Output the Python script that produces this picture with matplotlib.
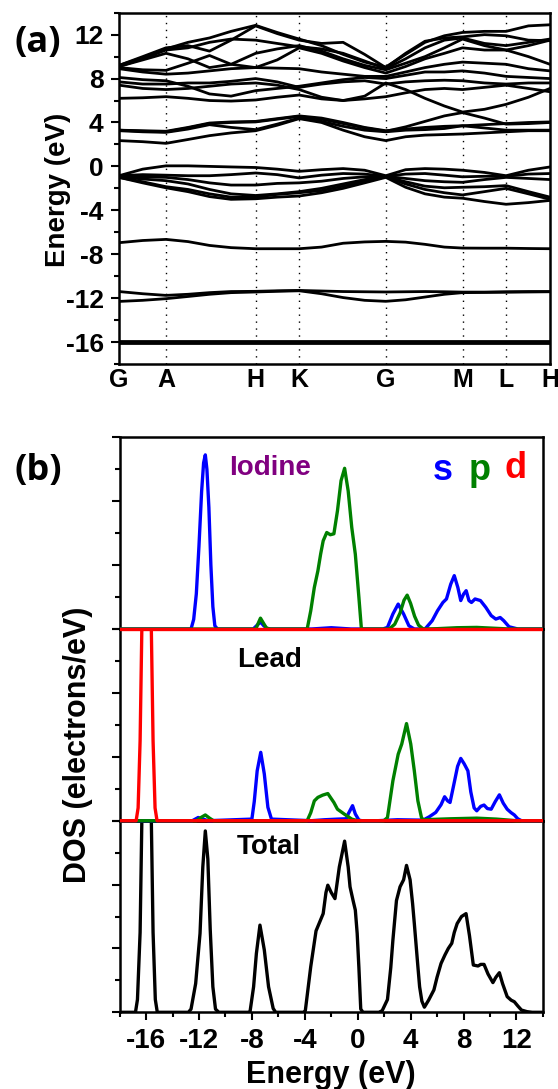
import matplotlib
matplotlib.use('Agg')
import matplotlib.pyplot as plt
from matplotlib.ticker import MultipleLocator
from matplotlib.patches import Rectangle

plt.rcParams['font.family'] = 'Liberation Sans'
plt.rcParams['font.weight'] = 'bold'
plt.rcParams['axes.unicode_minus'] = False

# --- band structure (a) ---
kpts = [0, 0.055, 0.109, 0.16, 0.21, 0.26, 0.317, 0.367, 0.418, 0.47, 0.52,
        0.57, 0.619, 0.665, 0.71, 0.755, 0.797, 0.848, 0.898, 0.95, 1.0]
knodes = [0, 0.109, 0.317, 0.418, 0.619, 0.797, 0.898, 1.0]
klabels = ['G', 'A', 'H', 'K', 'G', 'M', 'L', 'H']

b_m16a = [-16.05, -16.05, -16.05, -16.05, -16.05, -16.05, -16.05, -16.05, -16.05, -16.05, -16.05,
          -16.05, -16.05, -16.05, -16.05, -16.05, -16.05, -16.05, -16.05, -16.05, -16.05]
b_m16b = [-15.95, -15.95, -15.95, -15.95, -15.95, -15.95, -15.95, -15.95, -15.95, -15.95, -15.95,
          -15.95, -15.95, -15.95, -15.95, -15.95, -15.95, -15.95, -15.95, -15.95, -15.95]
b_m12a = [-11.4, -11.6, -11.75, -11.65, -11.5, -11.4, -11.38, -11.33, -11.3, -11.35, -11.4,
          -11.42, -11.44, -11.42, -11.4, -11.42, -11.45, -11.45, -11.42, -11.4, -11.4]
b_m12b = [-12.3, -12.2, -12.05, -11.85, -11.65, -11.5, -11.44, -11.38, -11.33, -11.6, -11.95,
          -12.2, -12.29, -12.15, -11.9, -11.65, -11.5, -11.48, -11.46, -11.44, -11.42]
b_m8 = [-6.95, -6.75, -6.65, -6.85, -7.2, -7.4, -7.5, -7.5, -7.5, -7.35, -7.0,
        -6.88, -6.83, -6.9, -7.1, -7.35, -7.44, -7.45, -7.45, -7.48, -7.5]

v1 = [-0.85, -0.25, 0.05, 0.05, 0.0, -0.05, -0.1, -0.25, -0.45, -0.3, -0.2,
      -0.35, -0.85, -0.3, -0.2, -0.25, -0.35, -0.55, -0.85, -0.35, -0.05]
v2 = [-0.85, -0.75, -0.8, -0.85, -0.85, -0.75, -0.6, -0.75, -1.05, -0.8, -0.65,
      -0.7, -0.9, -0.7, -0.65, -0.8, -0.95, -0.9, -0.9, -0.7, -0.65]
v3 = [-0.9, -0.95, -1.0, -1.2, -1.5, -1.7, -1.7, -1.55, -1.5, -1.35, -1.1,
      -0.95, -0.9, -1.1, -1.3, -1.4, -1.45, -1.2, -1.0, -1.1, -1.2]
v4 = [-0.95, -1.15, -1.3, -1.6, -2.1, -2.5, -2.65, -2.5, -2.3, -2.0, -1.6,
      -1.2, -0.95, -1.4, -1.8, -1.95, -1.9, -1.85, -1.75, -2.3, -2.8]
v5 = [-1.0, -1.4, -1.85, -2.1, -2.5, -2.8, -2.8, -2.55, -2.4, -2.2, -1.8,
      -1.35, -0.95, -1.6, -2.1, -2.4, -2.6, -2.3, -2.0, -2.5, -3.0]
v6 = [-1.0, -1.5, -1.95, -2.3, -2.75, -3.0, -2.95, -2.8, -2.7, -2.4, -2.0,
      -1.5, -1.0, -1.9, -2.5, -2.8, -2.9, -3.2, -3.45, -3.3, -3.1]

c1 = [2.35, 2.25, 2.1, 2.45, 2.8, 3.05, 3.25, 3.75, 4.35, 4.0, 3.3,
      2.7, 2.35, 2.7, 2.85, 2.9, 2.95, 3.05, 3.15, 3.25, 3.25]
c2 = [3.25, 3.15, 3.1, 3.4, 3.8, 3.55, 3.35, 3.85, 4.4, 4.1, 3.65,
      3.3, 3.15, 3.3, 3.35, 3.45, 3.7, 3.5, 3.3, 3.3, 3.3]
c3 = [3.3, 3.2, 3.15, 3.5, 3.9, 4.0, 4.05, 4.3, 4.55, 4.3, 3.9,
      3.5, 3.2, 3.6, 4.1, 4.6, 4.9, 4.4, 3.85, 3.9, 4.0]
c4 = [3.3, 3.25, 3.2, 3.55, 3.95, 4.05, 4.1, 4.35, 4.6, 4.4, 4.0,
      3.55, 3.25, 3.4, 3.55, 3.65, 3.7, 3.8, 3.9, 4.0, 4.05]

u1 = [6.2, 6.25, 6.35, 6.2, 6.0, 5.95, 6.05, 6.3, 6.5, 6.15, 6.0,
      6.15, 6.35, 6.7, 7.0, 7.1, 7.0, 7.2, 7.4, 7.1, 6.8]
u2 = [7.4, 7.1, 7.0, 7.1, 7.3, 7.5, 7.6, 7.4, 7.0, 6.3, 6.0,
      6.4, 7.6, 7.0, 6.2, 5.5, 4.95, 5.2, 5.65, 6.3, 7.1]
u3 = [7.7, 7.5, 7.5, 7.6, 7.6, 7.75, 8.0, 7.7, 7.2, 7.5, 7.7,
      7.8, 7.5, 7.7, 7.8, 7.85, 7.8, 7.6, 7.5, 7.6, 7.6]
u4 = [8.1, 7.9, 7.8, 7.3, 6.6, 6.4, 6.9, 7.1, 7.3, 7.6, 7.9,
      8.1, 8.0, 8.3, 8.6, 8.6, 8.7, 8.5, 8.2, 8.1, 8.0]
u5 = [8.9, 8.6, 8.4, 8.5, 8.7, 8.9, 9.0, 8.95, 8.9, 8.6, 8.4,
      8.2, 8.2, 8.6, 9.0, 9.3, 9.5, 9.4, 9.3, 8.9, 8.7]
u6 = [9.0, 8.8, 8.75, 9.4, 10.1, 9.3, 9.0, 9.7, 10.8, 10.3, 9.6,
      9.0, 8.5, 9.1, 9.8, 10.3, 10.8, 10.6, 10.6, 10.0, 9.3]
u7 = [9.1, 9.7, 10.3, 9.8, 9.0, 9.3, 10.3, 10.7, 11.0, 10.5, 9.8,
      9.2, 8.8, 9.4, 10.0, 10.8, 11.6, 11.0, 10.6, 11.0, 11.5]
u8 = [9.1, 9.8, 10.6, 10.8, 11.3, 11.6, 11.5, 11.2, 10.9, 10.7, 10.3,
      9.6, 8.9, 9.8, 10.8, 11.5, 11.7, 11.2, 11.0, 11.3, 11.6]
u9 = [9.2, 10.0, 10.8, 11.0, 10.5, 11.5, 12.8, 12.1, 11.5, 11.2, 11.3,
      10.2, 9.0, 10.3, 11.4, 11.7, 11.8, 12.0, 11.9, 11.5, 11.45]
u10 = [9.2, 9.9, 10.7, 11.3, 11.7, 12.3, 12.85, 12.2, 11.6, 11.0, 10.2,
       9.5, 9.05, 10.2, 11.3, 11.9, 12.2, 12.3, 12.3, 12.8, 12.9]

bands = [b_m16a, b_m16b, b_m12a, b_m12b, b_m8, v1, v2, v3, v4, v5, v6,
         c1, c2, c3, c4, u1, u2, u3, u4, u5, u6, u7, u8, u9, u10]

# --- projected DOS (b) ---
iod_s_e = [-18, -12.6, -12.4, -12.2, -12.0, -11.8, -11.65, -11.52, -11.4, -11.25, -11.1, -10.95, -10.8, -10.6,
           -7.9, -7.6, -7.35, -7.1, -6.8,
           -3.5, -2.0, -0.5, 1.9, 2.25, 2.66, 3.06, 3.47, 3.87, 4.28,
           5.09, 5.63, 6.03, 6.44, 6.71, 7.03, 7.3, 7.57, 7.79, 8.0, 8.2, 8.41, 8.6, 8.87, 9.28,
           9.68, 10.09, 10.44, 10.77, 11.04, 11.44, 12.11, 14]
iod_s = [0, 0, 0.3, 1.1, 2.6, 4.3, 5.2, 5.45, 5.0, 3.8, 2.0, 0.7, 0.1, 0,
         0, 0.12, 0.22, 0.1, 0,
         0, 0.04, 0, 0, 0.05, 0.47, 0.78, 0.47, 0.1, 0,
         0, 0.26, 0.57, 0.83, 0.94, 1.4, 1.67, 1.3, 0.89, 1.09, 1.2, 0.89, 0.83, 0.94, 0.89,
         0.68, 0.42, 0.31, 0.36, 0.26, 0.07, 0, 0]
iod_p_e = [-18, -7.7, -7.5, -7.35, -7.15, -6.9, -6.6,
           -3.82, -3.55, -3.28, -3.01, -2.8, -2.61, -2.34, -2.07, -1.8, -1.53, -1.26, -0.99,
           -0.72, -0.45, -0.18, 0.09, 0.28,
           2.39, 2.8, 3.2, 3.5, 3.74, 4.0, 4.3, 4.6, 4.95,
           6.0, 7.5, 9.0, 10.5, 11.5, 14]
iod_p = [0, 0, 0.2, 0.34, 0.2, 0.03, 0,
         0, 0.57, 1.3, 1.82, 2.35, 2.76, 3.02, 2.95, 2.98, 3.7, 4.64, 5.03,
         4.32, 3.18, 2.34, 0.99, 0,
         0, 0.15, 0.5, 0.9, 1.06, 0.8, 0.4, 0.12, 0,
         0.01, 0.04, 0.05, 0.02, 0, 0]
iod_d_e = [-18, 14]
iod_d = [0, 0]

lead_s_e = [-18, -12.5, -12.06, -11.7, -11.3,
            -8.0, -7.82, -7.6, -7.33, -7.06, -6.79, -6.52,
            -3.5, -2.5, -1.5, -0.85, -0.72, -0.39, -0.18, 0.09, 0.3,
            1.5, 3.0, 4.5, 4.95, 5.4, 5.9, 6.3, 6.57, 6.8, 6.98, 7.25, 7.55, 7.79, 8.05, 8.33,
            8.55, 8.8, 9.0, 9.3, 9.55, 9.8, 10.09, 10.4, 10.71, 11.0, 11.3, 11.6, 11.84, 12.1, 12.38, 14]
lead_s = [0, 0, 0.1, 0.05, 0,
          0.05, 0.6, 1.56, 2.14, 1.46, 0.42, 0.05,
          0, 0.03, 0.05, 0.06, 0.21, 0.47, 0.21, 0.02, 0,
          0, 0.03, 0.02, 0.02, 0.12, 0.26, 0.5, 0.75, 0.62, 0.57, 1.1, 1.7, 1.95, 1.78, 1.56,
          0.9, 0.4, 0.31, 0.45, 0.49, 0.38, 0.36, 0.6, 0.81, 0.55, 0.36, 0.25, 0.18, 0.06, 0, 0]
lead_p_e = [-18, -12.2, -11.85, -11.52, -11.2, -10.9,
            -3.82, -3.55, -3.28, -3.01, -2.65, -2.26, -1.8, -1.53, -0.99, -0.45, 0.0,
            1.98, 2.25, 2.66, 3.06, 3.33, 3.69, 4.01, 4.28, 4.55, 4.82, 4.95,
            7.0, 9.0, 10.5, 12.0, 14]
lead_p = [0, 0, 0.1, 0.18, 0.08, 0,
          0, 0.25, 0.62, 0.73, 0.8, 0.85, 0.57, 0.36, 0.2, 0.05, 0,
          0, 0.1, 1.25, 2.08, 2.4, 3.04, 2.4, 1.56, 0.62, 0.1, 0.03,
          0.06, 0.08, 0.05, 0, 0]
lead_d_e = [-18, -16.75, -16.6, -16.45, -16.3, -16.15, -15.96, -15.77, -15.62, -15.47, -15.32, -15.17, 14]
lead_d = [0, 0, 0.4, 2.5, 6.5, 11, 13, 11, 6.5, 2.5, 0.4, 0, 0]

tot_e = [-18, -16.8, -16.65, -16.45, -16.3, -16.15, -15.96, -15.77, -15.62, -15.47, -15.3, -15.15,
         -12.8, -12.6, -12.25, -11.92, -11.71, -11.52, -11.33, -11.15, -10.95, -10.75, -10.5,
         -8.3, -8.14, -7.87, -7.66, -7.39, -7.06, -6.74, -6.39, -6.2,
         -4.1, -3.96, -3.55, -3.15, -2.9, -2.61, -2.4, -2.26, -2.0, -1.72, -1.39, -0.99, -0.72,
         -0.58, -0.35, -0.18, -0.04, 0.09, 0.23, 0.4,
         1.6, 1.85, 2.25, 2.5, 2.66, 2.93, 3.2, 3.47, 3.69, 3.96, 4.15, 4.28, 4.55, 4.68, 4.85,
         5.04, 5.36, 5.76, 6.0, 6.3, 6.6, 6.85, 7.11, 7.3, 7.52, 7.85, 8.19, 8.45, 8.74, 9.1, 9.3,
         9.55, 9.85, 10.22, 10.45, 10.71, 10.95, 11.3, 11.6, 11.84, 12.1, 12.38, 12.8, 13.19, 14]
tot = [0, 0, 0.4, 2.5, 6.5, 11, 13, 11, 6.5, 2.5, 0.4, 0,
       0, 0.1, 0.9, 2.47, 4.55, 5.68, 4.8, 2.6, 0.8, 0.1, 0,
       0, 0.02, 0.8, 1.84, 2.73, 1.95, 0.8, 0.12, 0,
       0, 0.05, 1.43, 2.55, 2.8, 3.09, 3.75, 3.98, 3.75, 3.56, 4.55, 5.36, 4.55,
       3.93, 3.5, 3.2, 2.47, 1.4, 0.1, 0,
       0, 0.05, 0.4, 1.4, 2.26, 3.5, 3.93, 4.15, 4.6, 4.15, 3.4, 2.78, 1.43, 0.8, 0.35,
       0.16, 0.38, 0.7, 1.1, 1.53, 1.8, 2.0, 2.16, 2.5, 2.78, 3.0, 3.09, 2.4, 1.48, 1.45, 1.5,
       1.5, 1.2, 0.93, 1.1, 1.24, 0.9, 0.49, 0.38, 0.33, 0.2, 0.07, 0.02, 0, 0]

W, H = 558, 1089
fig = plt.figure(figsize=(W / 100, H / 100), dpi=100)


def fx(px):
    return px / W


def fy(py):
    return 1 - py / H


# ---- panel (a) ----
axa = fig.add_axes([fx(119), fy(364), fx(550) - fx(119), fy(12.7) - fy(364)])
for b in bands:
    axa.plot(kpts, b, color='black', lw=2.0, solid_joinstyle='round')
for k in knodes[1:-1]:
    axa.axvline(k, color='black', lw=1.0, ls=(0, (1, 4)))
axa.set_xlim(0, 1)
axa.set_ylim(-18, 14)
axa.set_xticks(knodes)
axa.set_xticklabels(klabels, fontsize=18, fontweight='bold')
axa.tick_params(axis='x', length=0, pad=3)
axa.yaxis.set_major_locator(MultipleLocator(4))
axa.yaxis.set_minor_locator(MultipleLocator(2))
axa.set_yticks(range(-16, 13, 4))
axa.tick_params(axis='y', which='major', direction='out', length=6, width=1.5,
                labelsize=19, pad=5)
axa.tick_params(axis='y', which='minor', direction='out', length=3.5, width=1.5)
for s in axa.spines.values():
    s.set_linewidth(1.8)

fig.text(fx(58), fy(190), 'Energy (eV)', rotation=90, ha='center', va='center',
         fontsize=20, fontweight='bold')
fig.text(fx(38), fy(43), '(a)', ha='center', va='center', fontsize=26,
         fontweight='bold', family='Open Sans')

# ---- panel (b) ----
left = fx(119.6)
width = fx(542.9) - fx(119.6)
tops = [437.3, 629, 820.7]
bots = [629, 820.7, 1012.3]
axes = []
for i, (t, bt) in enumerate(zip(tops, bots)):
    ax = fig.add_axes([left, fy(bt), width, fy(t) - fy(bt)])
    # upper panels on top so their zero lines sit over the shared borders
    ax.set_zorder(3 - i)
    ax.patch.set_visible(False)
    ax.set_xlim(-18, 14)
    ax.set_ylim(0, 6)
    ax.yaxis.set_major_locator(MultipleLocator(2))
    ax.yaxis.set_minor_locator(MultipleLocator(1))
    ax.xaxis.set_major_locator(MultipleLocator(4))
    ax.xaxis.set_minor_locator(MultipleLocator(2))
    ax.tick_params(axis='y', which='major', direction='out', length=6, width=1.5, labelleft=False)
    ax.tick_params(axis='y', which='minor', direction='out', length=3.5, width=1.5)
    ax.tick_params(axis='x', which='both', bottom=False, labelbottom=False)
    for s in ax.spines.values():
        s.set_linewidth(1.8)
    axes.append(ax)

ax_i, ax_l, ax_t = axes
lw = 2.4


def pdos(ax, e, v, color):
    # clip only at the top so the zero line stays fully visible on the panel border
    line, = ax.plot(e, v, color=color, lw=lw, zorder=3)
    box = Rectangle((0, -0.05), 1, 1.05, transform=ax.transAxes, fill=False)
    line.set_clip_path(box)
    return line


pdos(ax_i, iod_s_e, iod_s, 'blue')
pdos(ax_i, iod_p_e, iod_p, 'green')
pdos(ax_i, iod_d_e, iod_d, 'red')
pdos(ax_l, lead_s_e, lead_s, 'blue')
pdos(ax_l, lead_p_e, lead_p, 'green')
pdos(ax_l, lead_d_e, lead_d, 'red')
ax_t.plot(tot_e, tot, color='black', lw=lw, zorder=3)

ax_t.set_xticks(range(-16, 13, 4))
ax_t.tick_params(axis='x', which='major', bottom=True, labelbottom=True, direction='out',
                 length=6, width=1.5, labelsize=20, pad=5)
ax_t.tick_params(axis='x', which='minor', bottom=True, direction='out', length=3.5, width=1.5)

fig.text(fx(270), fy(468), 'Iodine', ha='center', va='center',
         color='purple', fontsize=20, fontweight='bold')
fig.text(fx(443), fy(470), 's', color='blue', ha='center', va='center', fontsize=26, fontweight='bold')
fig.text(fx(480), fy(470), 'p', color='green', ha='center', va='center', fontsize=26, fontweight='bold')
fig.text(fx(516), fy(468), 'd', color='red', ha='center', va='center', fontsize=26, fontweight='bold')
fig.text(fx(270), fy(660), 'Lead', ha='center', va='center', fontsize=20, fontweight='bold')
fig.text(fx(269), fy(847), 'Total', ha='center', va='center', fontsize=20, fontweight='bold')

fig.text(fx(78), fy(745), 'DOS (electrons/eV)', rotation=90, ha='center', va='center',
         fontsize=22, fontweight='bold')
fig.text(fx(331), fy(1075), 'Energy (eV)', ha='center', va='center', fontsize=22, fontweight='bold')
fig.text(fx(38), fy(471), '(b)', ha='center', va='center', fontsize=26,
         fontweight='bold', family='Open Sans')

fig.savefig('out.png', dpi=100)
